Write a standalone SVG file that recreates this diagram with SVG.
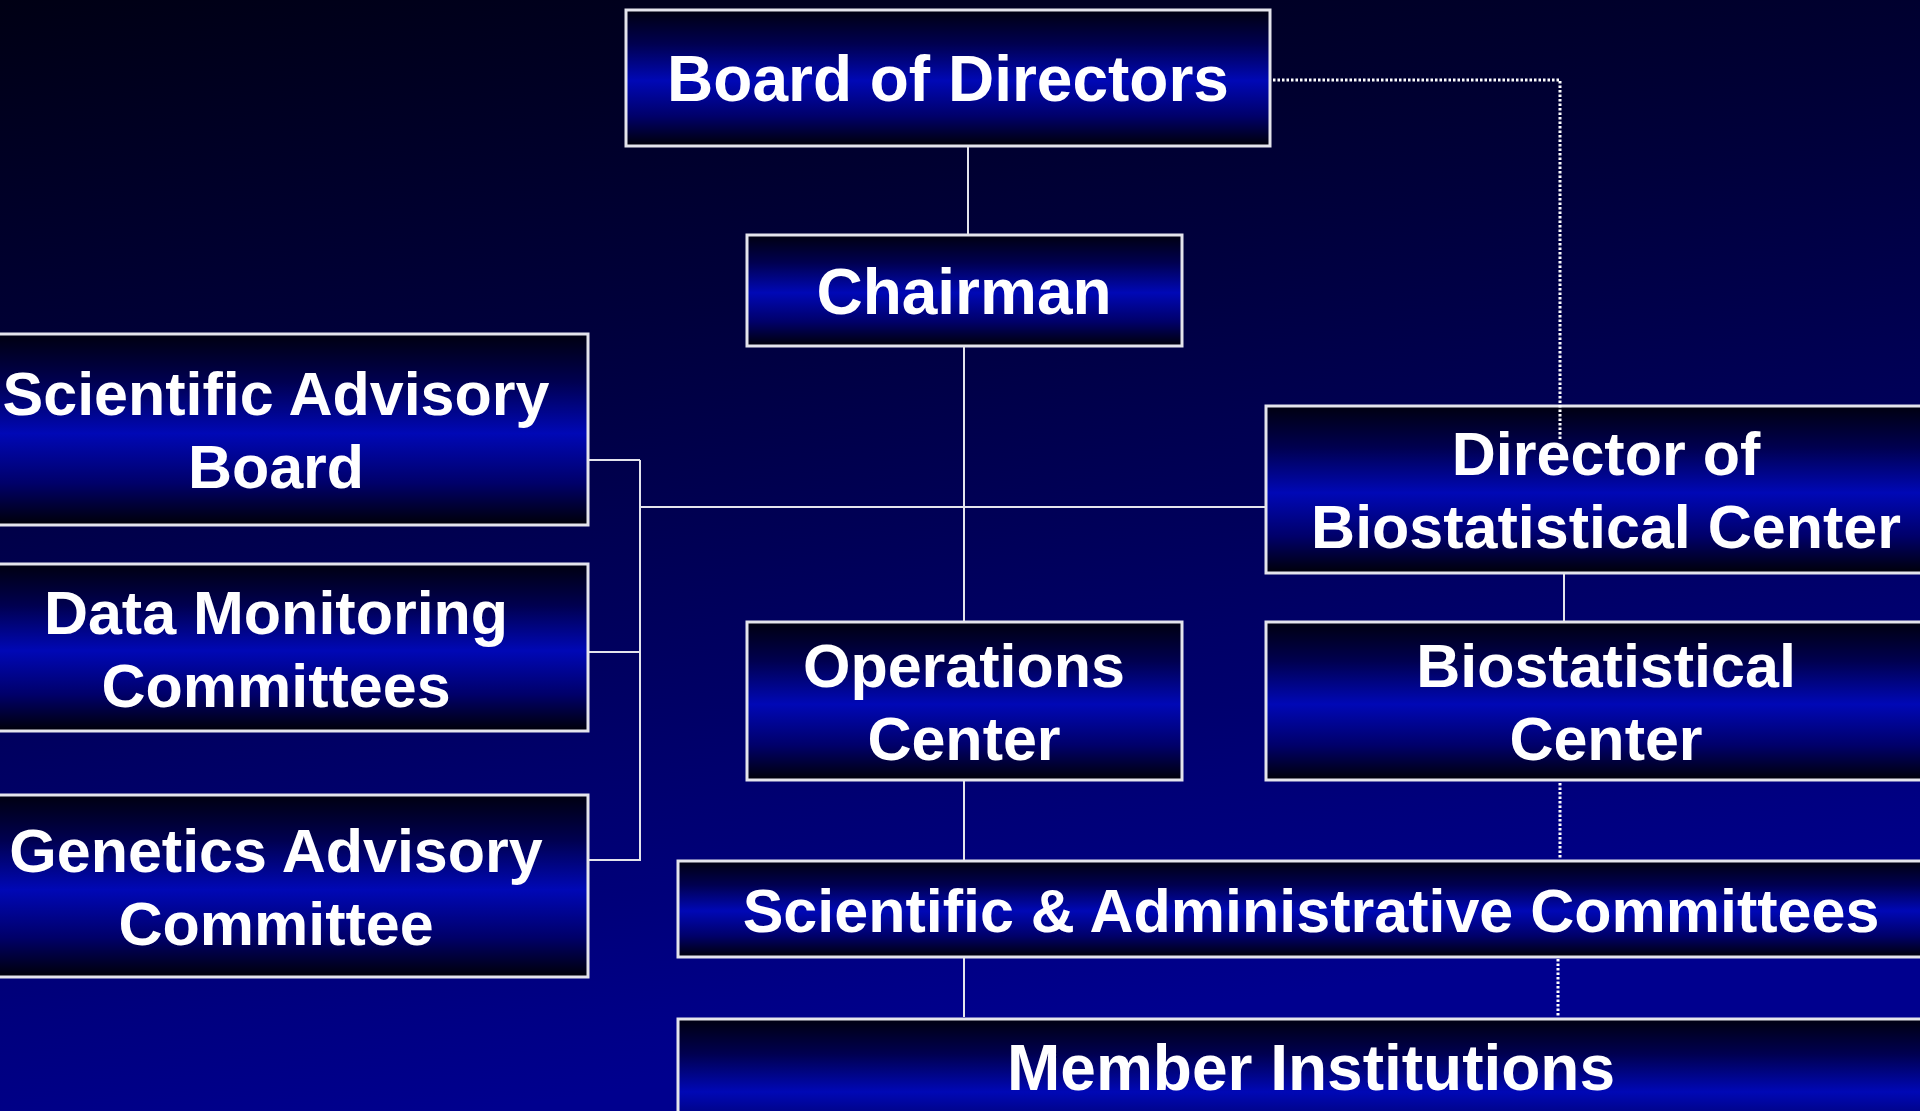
<svg xmlns="http://www.w3.org/2000/svg" width="1920" height="1111" viewBox="0 0 1920 1111">
<defs>
<linearGradient id="bg" x1="0" y1="0" x2="0.25" y2="1">
<stop offset="0" stop-color="#000014"/>
<stop offset="0.35" stop-color="#00003c"/>
<stop offset="1" stop-color="#00008e"/>
</linearGradient>
<linearGradient id="box" x1="0" y1="0" x2="0" y2="1">
<stop offset="0" stop-color="#000010"/>
<stop offset="0.25" stop-color="#000050"/>
<stop offset="0.52" stop-color="#0008b6"/>
<stop offset="0.78" stop-color="#00006a"/>
<stop offset="1" stop-color="#000008"/>
</linearGradient>
<style>
.box{fill:url(#box);stroke:#e4e4ec;stroke-width:3}
.t{font-family:"Liberation Sans",Arial,sans-serif;font-weight:bold;fill:#ffffff;text-anchor:middle}
.l{font-size:64px}
.s{font-size:61px}
.c{stroke:#e4e4ec;stroke-width:2;fill:none}
.d{stroke:#ffffff;stroke-width:3;fill:none;stroke-dasharray:2.5 2}
</style>
</defs>
<rect x="0" y="0" width="1920" height="1111" fill="url(#bg)"/>
<g id="connectors">
<line class="c" x1="968" y1="146" x2="968" y2="235"/>
<line class="c" x1="964" y1="347" x2="964" y2="622"/>
<line class="c" x1="640" y1="507" x2="1266" y2="507"/>
<line class="c" x1="640" y1="460" x2="640" y2="861"/>
<line class="c" x1="588" y1="460" x2="640" y2="460"/>
<line class="c" x1="588" y1="652" x2="640" y2="652"/>
<line class="c" x1="588" y1="860" x2="640" y2="860"/>
<line class="c" x1="1564" y1="573" x2="1564" y2="622"/>
<line class="c" x1="964" y1="781" x2="964" y2="860"/>
<line class="c" x1="964" y1="958" x2="964" y2="1017"/>
<line class="d" x1="1560" y1="783" x2="1560" y2="859"/>
<line class="d" x1="1558" y1="959" x2="1558" y2="1016"/>
</g>
<g id="board">
<rect class="box" x="626" y="10" width="644" height="136"/>
<text class="t l" x="948" y="101">Board of Directors</text>
</g>
<g id="chairman">
<rect class="box" x="747" y="235" width="435" height="111"/>
<text class="t l" x="964" y="314">Chairman</text>
</g>
<g id="sab">
<rect class="box" x="-36" y="334" width="624" height="191"/>
<text class="t s" x="276" y="415">Scientific Advisory</text>
<text class="t s" x="276" y="488">Board</text>
</g>
<g id="dmc">
<rect class="box" x="-36" y="564" width="624" height="167"/>
<text class="t s" x="276" y="634">Data Monitoring</text>
<text class="t s" x="276" y="707">Committees</text>
</g>
<g id="gac">
<rect class="box" x="-36" y="795" width="624" height="182"/>
<text class="t s" x="276" y="872">Genetics Advisory</text>
<text class="t s" x="276" y="945">Committee</text>
</g>
<g id="director">
<rect class="box" x="1266" y="406" width="680" height="167"/>
<text class="t s" x="1606" y="475">Director of</text>
<text class="t s" x="1606" y="548">Biostatistical Center</text>
</g>
<g id="operations">
<rect class="box" x="747" y="622" width="435" height="158"/>
<text class="t s" x="964" y="687">Operations</text>
<text class="t s" x="964" y="760">Center</text>
</g>
<g id="biostat">
<rect class="box" x="1266" y="622" width="680" height="158"/>
<text class="t s" x="1606" y="687">Biostatistical</text>
<text class="t s" x="1606" y="760">Center</text>
</g>
<g id="sac">
<rect class="box" x="678" y="861" width="1266" height="96"/>
<text class="t s" x="1311" y="932">Scientific &amp; Administrative Committees</text>
</g>
<g id="member">
<rect class="box" x="678" y="1019" width="1266" height="140"/>
<text class="t l" x="1311" y="1090">Member Institutions</text>
</g>
<g id="dotted-link">
<polyline class="d" points="1273,80 1560,80 1560,440"/>
</g>
</svg>
